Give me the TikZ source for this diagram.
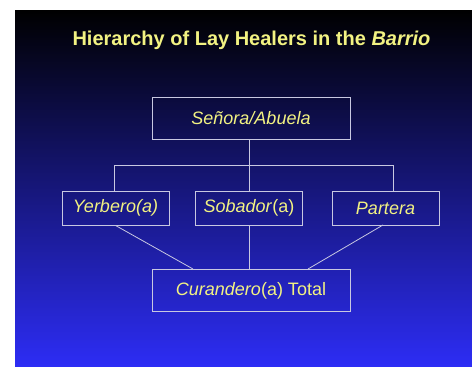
\documentclass[tikz,border=0pt]{standalone}
\usepackage{fontspec}
\setmainfont{Liberation Sans}
\definecolor{ttl}{RGB}{242,242,130}
\definecolor{ln}{RGB}{200,200,225}
\definecolor{bgtop}{RGB}{0,0,0}
\definecolor{bgmid}{RGB}{20,20,118}
\definecolor{bgbot}{RGB}{45,45,245}
\begin{document}
\begin{tikzpicture}[x=1pt,y=-1pt,
  box/.style={draw=ln, line width=0.9pt, text=ttl, font=\fontsize{18}{21}\selectfont, inner sep=0pt},
  bigbox/.style={box, minimum width=198pt, minimum height=42pt},
  smallbox/.style={box, minimum width=107pt, minimum height=34pt},
  conn/.style={draw=ln, line width=0.8pt}]
\useasboundingbox (0,0) rectangle (472,367);
\fill[white] (0,0) rectangle (472,367);
\shade[top color=bgtop, middle color=bgmid, bottom color=bgbot] (15,10) rectangle (472,367);
\node[text=ttl, font=\bfseries\fontsize{20}{24}\selectfont, anchor=base] (title) at (251.5,45) {Hierarchy of Lay Healers in the \textit{Barrio}};
\node[bigbox] (top) at (251,118) {\textit{Señora/Abuela}};
\node[smallbox] (yer) at (115.5,208) {\textit{Yerbero(a)}};
\node[smallbox] (sob) at (249,208) {\textit{Sobador}(a)};
\node[smallbox] (par) at (385.5,208) {\textit{Partera}};
\node[bigbox] (cur) at (251,290.5) {\textit{Curandero}(a) Total};
\coordinate (hl) at (114,165);
\coordinate (hr) at (393,165);
\coordinate (cl) at (193,269);
\coordinate (cr) at (308,269);
\coordinate (pl) at (383,225);
\draw[conn] (sob.north |- top.south) -- (sob.north);
\draw[conn] (hl) -- (hr);
\draw[conn] (hl) -- (hl |- yer.north);
\draw[conn] (hr) -- (hr |- par.north);
\draw[conn] (yer.south) -- (cl);
\draw[conn] (pl) -- (cr);
\draw[conn] (sob.south) -- (sob.south |- cur.north);
\end{tikzpicture}
\end{document}
